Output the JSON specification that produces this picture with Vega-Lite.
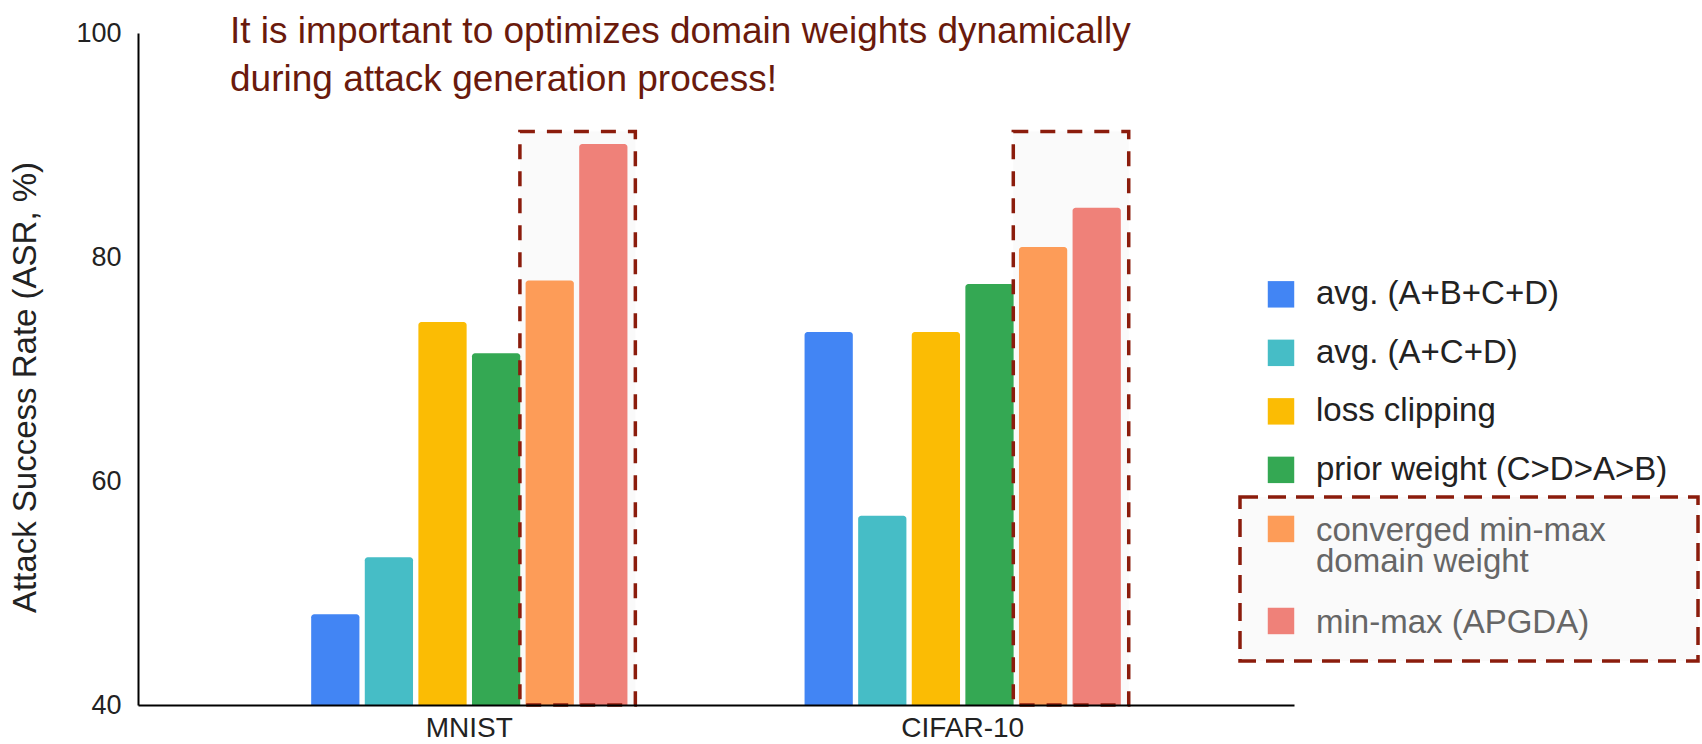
{
  "$schema": "https://vega.github.io/schema/vega-lite/v6.json",
  "background": "white",
  "padding": {"left": 9, "top": 13, "right": 0, "bottom": 0},
  "config": {
    "view": {"stroke": null},
    "font": "Liberation Sans"
  },
  "datasets": {
    "asr": [
      {"dataset": "MNIST", "series": "avg. (A+B+C+D)", "value": 48.1},
      {"dataset": "MNIST", "series": "avg. (A+C+D)", "value": 53.2},
      {"dataset": "MNIST", "series": "loss clipping", "value": 74.2},
      {"dataset": "MNIST", "series": "prior weight (C>D>A>B)", "value": 71.4},
      {"dataset": "MNIST", "series": "converged min-max domain weight", "value": 77.9},
      {"dataset": "MNIST", "series": "min-max (APGDA)", "value": 90.1},
      {"dataset": "CIFAR-10", "series": "avg. (A+B+C+D)", "value": 73.3},
      {"dataset": "CIFAR-10", "series": "avg. (A+C+D)", "value": 56.9},
      {"dataset": "CIFAR-10", "series": "loss clipping", "value": 73.3},
      {"dataset": "CIFAR-10", "series": "prior weight (C>D>A>B)", "value": 77.6},
      {"dataset": "CIFAR-10", "series": "converged min-max domain weight", "value": 80.9},
      {"dataset": "CIFAR-10", "series": "min-max (APGDA)", "value": 84.4}
    ],
    "methods": [
      {"series": "avg. (A+B+C+D)", "label": "avg. (A+B+C+D)", "minmax": false},
      {"series": "avg. (A+C+D)", "label": "avg. (A+C+D)", "minmax": false},
      {"series": "loss clipping", "label": "loss clipping", "minmax": false},
      {"series": "prior weight (C>D>A>B)", "label": "prior weight (C>D>A>B)", "minmax": false},
      {"series": "converged min-max domain weight", "label": "converged min-max\ndomain weight", "minmax": true},
      {"series": "min-max (APGDA)", "label": "min-max (APGDA)", "minmax": true}
    ]
  },
  "hconcat": [
    {
      "width": 1102,
      "height": 672,
      "title": {
        "text": ["It is important to optimizes domain weights dynamically", "during attack generation process!"],
        "orient": "top",
        "anchor": "start",
        "frame": "group",
        "dx": 92,
        "dy": 49,
        "offset": -60,
        "baseline": "alphabetic",
        "font": "Liberation Sans",
        "fontSize": 37,
        "fontWeight": "normal",
        "lineHeight": 48,
        "color": "#6a1a0c"
      },
      "data": {"name": "asr"},
      "layer": [
        {
          "transform": [{"filter": {"field": "series", "equal": "min-max (APGDA)"}}],
          "mark": {"type": "rect", "fill": "#fafafa", "strokeWidth": 0},
          "encoding": {
            "x": {"field": "dataset", "type": "nominal", "bandPosition": 0.66, "sort": ["MNIST", "CIFAR-10"]},
            "x2": {"field": "dataset", "bandPosition": 1.025},
            "y": {"datum": 91.2, "type": "quantitative"},
            "y2": {"datum": 40}
          }
        },
        {
          "mark": {"type": "bar", "cornerRadiusTopLeft": 3, "cornerRadiusTopRight": 3},
          "encoding": {
            "x": {
              "field": "dataset", "type": "nominal", "sort": ["MNIST", "CIFAR-10"],
              "scale": {"type": "band", "paddingInner": 0.359, "paddingOuter": 0.351, "range": [0, 1156]},
              "axis": {
                "title": null, "ticks": false, "labelAngle": 0, "labelAlign": "center", "labelBaseline": "top",
                "domainColor": "#000000", "domainWidth": 2,
                "labelFont": "Liberation Sans", "labelFontSize": 28, "labelColor": "#222222", "labelPadding": 9
              }
            },
            "xOffset": {
              "field": "series", "type": "nominal",
              "sort": ["avg. (A+B+C+D)", "avg. (A+C+D)", "loss clipping", "prior weight (C>D>A>B)", "converged min-max domain weight", "min-max (APGDA)"],
              "scale": {"paddingInner": 0.1, "paddingOuter": 0}
            },
            "y": {
              "field": "value", "type": "quantitative",
              "scale": {"domain": [40, 100], "nice": false, "zero": false},
              "axis": {
                "values": [40, 60, 80, 100], "grid": false, "ticks": false,
                "domainColor": "#000000", "domainWidth": 2,
                "labelFont": "Liberation Sans", "labelFontSize": 27, "labelColor": "#222222", "labelPadding": 17,
                "title": "Attack Success Rate (ASR, %)",
                "titleFont": "Liberation Sans", "titleFontSize": 33, "titleFontWeight": "normal", "titleColor": "#222222",
                "titlePadding": 33, "titleY": 354
              }
            },
            "y2": {"datum": 40},
            "color": {
              "field": "series", "type": "nominal", "legend": null,
              "scale": {
                "domain": ["avg. (A+B+C+D)", "avg. (A+C+D)", "loss clipping", "prior weight (C>D>A>B)", "converged min-max domain weight", "min-max (APGDA)"],
                "range": ["#4285f4", "#46bdc6", "#fbbc04", "#34a853", "#fd9c58", "#ef8179"]
              }
            }
          }
        },
        {
          "transform": [{"filter": {"field": "series", "equal": "min-max (APGDA)"}}],
          "mark": {"type": "rect", "fillOpacity": 0, "stroke": "#8b1c0c", "strokeWidth": 3.5, "strokeDash": [15, 12]},
          "encoding": {
            "x": {"field": "dataset", "type": "nominal", "bandPosition": 0.66, "sort": ["MNIST", "CIFAR-10"]},
            "x2": {"field": "dataset", "bandPosition": 1.025},
            "y": {"datum": 91.2, "type": "quantitative"},
            "y2": {"datum": 40}
          }
        }
      ]
    },
    {
      "vconcat": [
        {
          "width": 458,
          "height": 234.8,
          "data": {"values": []},
          "mark": "point"
        },
        {
          "width": 458,
          "height": 228.2,
          "data": {"name": "methods"},
          "transform": [{"filter": "!datum.minmax"}],
          "encoding": {
            "y": {"field": "series", "type": "nominal", "sort": null, "axis": null,
                  "scale": {"type": "point", "padding": 0.45}}
          },
          "layer": [
            {
              "mark": {"type": "point", "shape": "square", "filled": true, "size": 700, "opacity": 1, "strokeWidth": 0, "xOffset": -188},
              "encoding": {"color": {"field": "series", "type": "nominal", "legend": null}}
            },
            {
              "mark": {"type": "text", "align": "left", "baseline": "middle", "xOffset": -153, "font": "Liberation Sans", "fontSize": 33, "color": "#222222"},
              "encoding": {"text": {"field": "label"}}
            }
          ]
        },
        {
          "width": 458,
          "height": 164,
          "data": {"name": "methods"},
          "transform": [{"filter": "datum.minmax"}],
          "layer": [
            {
              "transform": [{"aggregate": [{"op": "count", "as": "entries"}]}],
              "mark": {"type": "rect", "fill": "#fafafa", "stroke": "#8b1c0c", "strokeWidth": 3.5, "strokeDash": [18, 10]},
              "encoding": {}
            },
            {
              "mark": {"type": "point", "shape": "square", "filled": true, "size": 700, "opacity": 1, "strokeWidth": 0, "xOffset": -188},
              "encoding": {
                "y": {"field": "series", "type": "nominal", "sort": null, "axis": null,
                      "scale": {"type": "point", "padding": 0.391, "align": 0.444}},
                "color": {"field": "series", "type": "nominal", "legend": null}
              }
            },
            {
              "mark": {"type": "text", "align": "left", "baseline": "alphabetic", "dy": 12, "lineBreak": "\n", "lineHeight": 31, "xOffset": -153, "font": "Liberation Sans", "fontSize": 33, "color": "#666666"},
              "encoding": {
                "y": {"field": "series", "type": "nominal", "sort": null, "axis": null},
                "text": {"field": "label"}
              }
            }
          ]
        }
      ],
      "spacing": 0,
      "bounds": "flush",
      "resolve": {"scale": {"y": "independent"}}
    }
  ],
  "spacing": 0,
  "bounds": "flush",
  "resolve": {"scale": {"x": "independent", "y": "independent", "xOffset": "independent"}}
}
